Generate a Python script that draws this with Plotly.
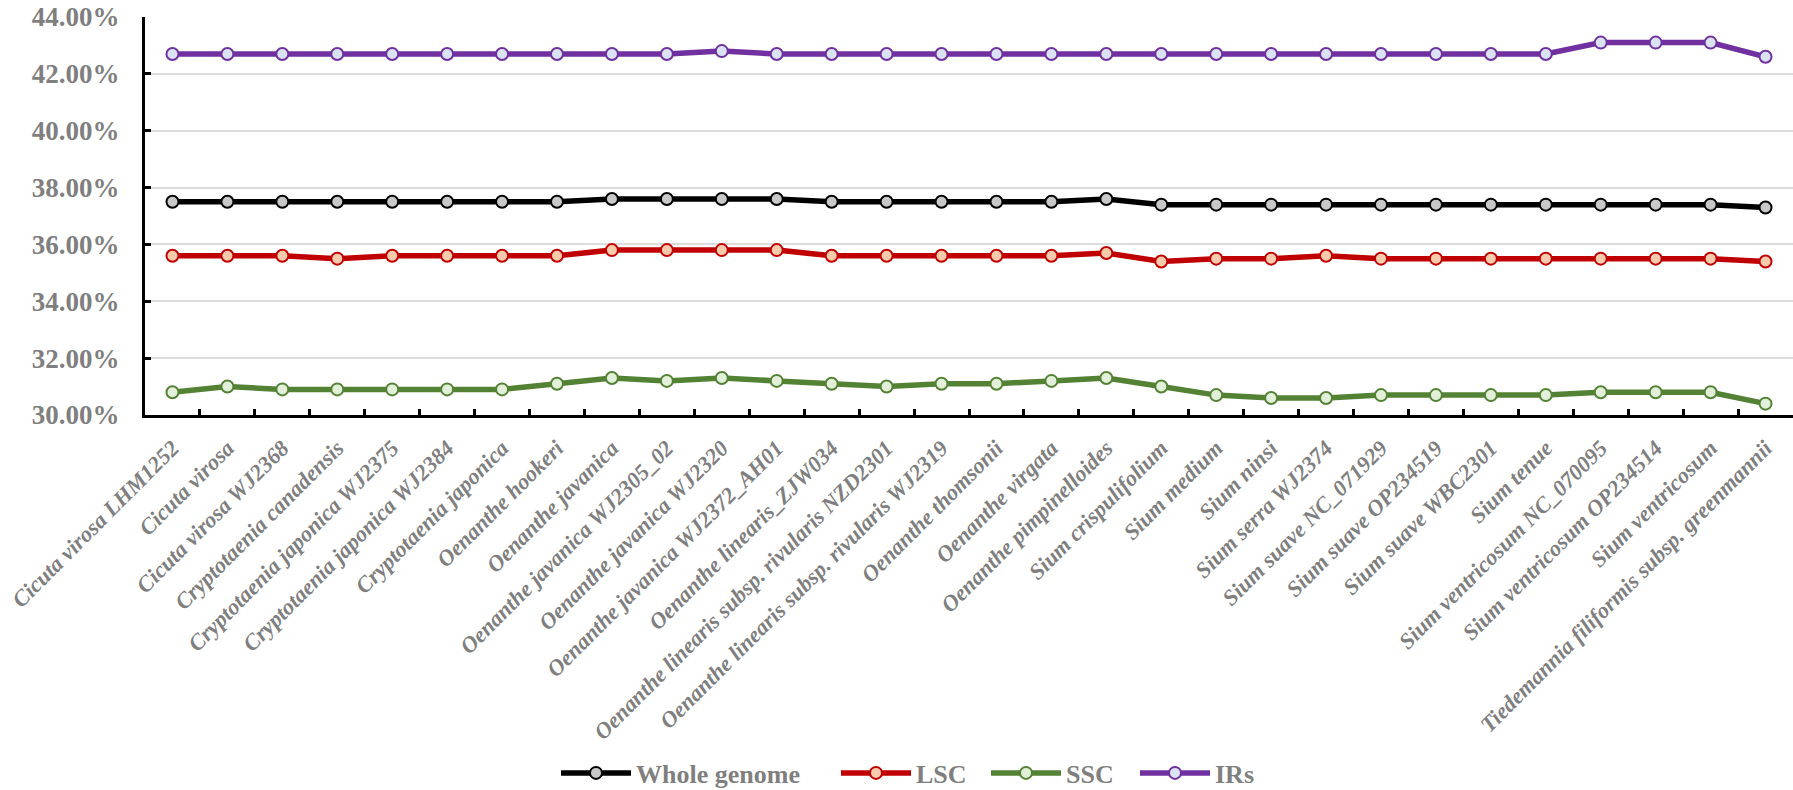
import plotly.graph_objects as go

# GC content (%) of each plastome region across the sampled taxa
taxa = [
    "Cicuta virosa LHM1252", "Cicuta virosa", "Cicuta virosa WJ2368",
    "Cryptotaenia canadensis", "Cryptotaenia japonica WJ2375",
    "Cryptotaenia japonica WJ2384", "Cryptotaenia japonica", "Oenanthe hookeri",
    "Oenanthe javanica", "Oenanthe javanica WJ2305_02", "Oenanthe javanica WJ2320",
    "Oenanthe javanica WJ2372_AH01", "Oenanthe linearis_ZJW034",
    "Oenanthe linearis subsp. rivularis NZD2301",
    "Oenanthe linearis subsp. rivularis WJ2319", "Oenanthe thomsonii",
    "Oenanthe virgata", "Oenanthe pimpinelloides", "Sium crispulifolium",
    "Sium medium", "Sium ninsi", "Sium serra WJ2374", "Sium suave NC_071929",
    "Sium suave OP234519", "Sium suave WBC2301", "Sium tenue",
    "Sium ventricosum NC_070095", "Sium ventricosum OP234514", "Sium ventricosum",
    "Tiedemannia filiformis subsp. greenmannii",
]

whole_genome = [37.5, 37.5, 37.5, 37.5, 37.5, 37.5, 37.5, 37.5,
                37.6, 37.6, 37.6, 37.6, 37.5, 37.5, 37.5, 37.5, 37.5,
                37.6, 37.4, 37.4, 37.4, 37.4, 37.4, 37.4, 37.4, 37.4,
                37.4, 37.4, 37.4, 37.3]
lsc = [35.6, 35.6, 35.6, 35.5, 35.6, 35.6, 35.6, 35.6,
       35.8, 35.8, 35.8, 35.8, 35.6, 35.6, 35.6, 35.6, 35.6,
       35.7, 35.4, 35.5, 35.5, 35.6, 35.5, 35.5, 35.5, 35.5,
       35.5, 35.5, 35.5, 35.4]
ssc = [30.8, 31.0, 30.9, 30.9, 30.9, 30.9, 30.9, 31.1,
       31.3, 31.2, 31.3, 31.2, 31.1, 31.0, 31.1, 31.1, 31.2,
       31.3, 31.0, 30.7, 30.6, 30.6, 30.7, 30.7, 30.7, 30.7,
       30.8, 30.8, 30.8, 30.4]
irs = [42.7, 42.7, 42.7, 42.7, 42.7, 42.7, 42.7, 42.7,
       42.7, 42.7, 42.8, 42.7, 42.7, 42.7, 42.7, 42.7, 42.7,
       42.7, 42.7, 42.7, 42.7, 42.7, 42.7, 42.7, 42.7, 42.7,
       43.1, 43.1, 43.1, 42.6]

y_ticks = [30, 32, 34, 36, 38, 40, 42, 44]

# name, values, line colour, marker fill, legend slot, legend left edge (px)
series = [
    ("Whole genome", whole_genome, "#000000", "#c8c8c8", "legend", 556),
    ("LSC", lsc, "#c00000", "#f8cbad", "legend2", 836),
    ("SSC", ssc, "#548235", "#e2f0d9", "legend3", 986),
    ("IRs", irs, "#7030a0", "#dae3f3", "legend4", 1135),
]

FONT = "Liberation Serif, Times New Roman, serif"
GREY = "#7f7f7f"
W, H = 1793, 790

fig = go.Figure()
for name, values, line_col, fill_col, leg, _ in series:
    fig.add_trace(go.Scatter(
        x=taxa,
        y=[v / 100 for v in values],
        name=name,
        legend=leg,
        mode="lines+markers",
        line=dict(color=line_col, width=5.5),
        marker=dict(symbol="circle", size=12, color=fill_col,
                    line=dict(color=line_col, width=2)),
    ))

legend_style = dict(
    orientation="h",
    xref="container", yref="container",
    xanchor="left", yanchor="middle",
    y=1 - 773 / H,
    font=dict(family=FONT, size=26, color=GREY, weight="bold"),
    itemwidth=70,
    bgcolor="rgba(0,0,0,0)",
)
legends = {}
for _, _, _, _, leg, left in series:
    legends[leg] = dict(legend_style, x=left / W)

fig.update_layout(
    width=W, height=H,
    margin=dict(l=145, r=0, t=17, b=375),
    paper_bgcolor="white", plot_bgcolor="white",
    font=dict(family=FONT, color=GREY),
    showlegend=True,
    **legends,
)

fig.update_xaxes(
    type="category",
    range=[-0.5, len(taxa) - 0.5],
    showline=True, linecolor="#000000", linewidth=3,
    ticks="inside", tickson="boundaries", ticklen=6, tickwidth=3,
    tickcolor="#000000",
    showgrid=False,
    tickangle=-45,
    ticklabelstandoff=8,
    tickfont=dict(family=FONT, size=22.5, color=GREY, weight="bold", style="italic"),
)

fig.update_yaxes(
    range=[0.30, 0.44],
    tickvals=[t / 100 for t in y_ticks],
    tickformat=".2%",
    showline=True, linecolor="#000000", linewidth=3,
    ticks="inside", ticklen=6, tickwidth=3, tickcolor="#000000",
    showgrid=True, gridcolor="#dcdcdc", gridwidth=1.5,
    zeroline=False,
    ticklabelstandoff=17,
    tickfont=dict(family=FONT, size=27, color=GREY, weight="bold"),
)

fig.write_html("out.html")
